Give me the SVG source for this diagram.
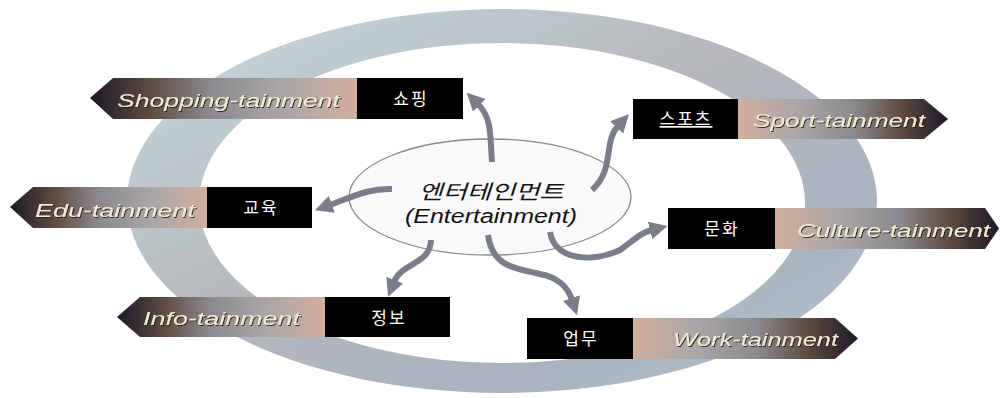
<svg xmlns="http://www.w3.org/2000/svg" width="1000" height="398" viewBox="0 0 1000 398">
<defs>
  <linearGradient id="ringGrad" x1="0" y1="0" x2="1" y2="1">
    <stop offset="0" stop-color="#c4dbe0"/>
    <stop offset="0.45" stop-color="#b6b8bc"/>
    <stop offset="0.75" stop-color="#a9b3c0"/>
    <stop offset="1" stop-color="#b4c8d2"/>
  </linearGradient>
  <linearGradient id="bannerL" x1="0" y1="0" x2="1" y2="0">
    <stop offset="0" stop-color="#1c1828"/>
    <stop offset="0.22" stop-color="#5e4a40"/>
    <stop offset="0.45" stop-color="#8c8a8e"/>
    <stop offset="0.72" stop-color="#aaa6a8"/>
    <stop offset="1" stop-color="#d2ae9c"/>
  </linearGradient>
  <linearGradient id="bannerR" x1="0" y1="0" x2="1" y2="0">
    <stop offset="0" stop-color="#d2ae9c"/>
    <stop offset="0.28" stop-color="#aaa6a8"/>
    <stop offset="0.55" stop-color="#8c8a8e"/>
    <stop offset="0.78" stop-color="#5e4a40"/>
    <stop offset="1" stop-color="#1c1828"/>
  </linearGradient>
  <filter id="shadow" x="-5%" y="-20%" width="110%" height="140%">
    <feDropShadow dx="1" dy="1" stdDeviation="0.3" flood-color="#1a1a1a" flood-opacity="0.9"/>
  </filter>
  <marker id="head" markerUnits="userSpaceOnUse" markerWidth="18" markerHeight="18" viewBox="0 0 18 18" refX="2" refY="9" orient="auto">
    <path d="M0,0 L18,9 L0,18 z" fill="#7a7e88"/>
  </marker>
  <style>
    .box { fill: #000000; }
    .kor { fill: #ffffff; font-family: "Noto Sans CJK KR", sans-serif; font-size: 17px; text-anchor: middle; letter-spacing: 2px; }
    .eng { fill: #f2ecd2; font-family: "Liberation Sans", Arial, sans-serif; font-style: italic; font-size: 18px; filter: url(#shadow); }
    .conn { fill: none; stroke: #7a7e88; stroke-width: 6; stroke-linecap: butt; marker-end: url(#head); }
    .center { fill: #111111; font-family: "Liberation Sans", "Noto Sans CJK KR", sans-serif; font-style: italic; font-size: 20px; text-anchor: middle; }
  </style>
</defs>

<path d="M127,201 A375,192 0 1,0 877,201 A375,192 0 1,0 127,201 Z M199,203 A303,160 0 1,1 805,203 A303,160 0 1,1 199,203 Z" fill="url(#ringGrad)" fill-rule="evenodd"/>

<g id="entertainment">
  <ellipse cx="490" cy="197" rx="141" ry="58" fill="#fbf9fb" stroke="#8a8a8a" stroke-width="1.3"/>
  <text class="center" x="491" y="199" textLength="145" lengthAdjust="spacingAndGlyphs">엔터테인먼트</text>
  <text class="center" x="491" y="223" textLength="172" lengthAdjust="spacingAndGlyphs">(Entertainment)</text>
</g>

<g id="connectors">
  <path class="conn" d="M492 162 C490 135 492 118 478 104"/>
  <path class="conn" d="M592 190 C615 170 603 142 618 126"/>
  <path class="conn" d="M392 189 C368 188 350 198 330 205"/>
  <path class="conn" d="M431 240 C430 265 402 262 394 282"/>
  <path class="conn" d="M488 235 C492 265 512 268 540 274 C560 278 568 288 572 300"/>
  <path class="conn" d="M550 232 C555 262 595 262 620 250 C634 240 640 233 652 230"/>
</g>

<g id="shopping">
  <polygon points="90,98 113,78 357,78 357,119 113,119" fill="url(#bannerL)"/>
  <rect class="box" x="357" y="78" width="106" height="41"/>
  <text class="eng" x="117" y="107" textLength="223" lengthAdjust="spacingAndGlyphs">Shopping-tainment</text>
  <text class="kor" x="411" y="105">쇼핑</text>
</g>

<g id="sport">
  <rect class="box" x="633" y="99" width="105" height="40"/>
  <polygon points="738,99 924,99 948,119 924,139 738,139" fill="url(#bannerR)"/>
  <text class="kor" x="686" y="125" text-decoration="underline">스포츠</text>
  <text class="eng" x="753" y="127" textLength="172" lengthAdjust="spacingAndGlyphs">Sport-tainment</text>
</g>

<g id="edu">
  <polygon points="10,207 33,187 207,187 207,228 33,228" fill="url(#bannerL)"/>
  <rect class="box" x="207" y="187" width="105" height="41"/>
  <text class="eng" x="35" y="217" textLength="160" lengthAdjust="spacingAndGlyphs">Edu-tainment</text>
  <text class="kor" x="261" y="214">교육</text>
</g>

<g id="culture">
  <rect class="box" x="668" y="208" width="107" height="41"/>
  <polygon points="775,208 985,208 999,228.5 985,249 775,249" fill="url(#bannerR)"/>
  <text class="kor" x="722" y="235">문화</text>
  <text class="eng" x="797" y="237" textLength="193" lengthAdjust="spacingAndGlyphs">Culture-tainment</text>
</g>

<g id="info">
  <polygon points="117,317 140,297 325,297 325,337 140,337" fill="url(#bannerL)"/>
  <rect class="box" x="325" y="297" width="125" height="40"/>
  <text class="eng" x="143" y="325" textLength="157" lengthAdjust="spacingAndGlyphs">Info-tainment</text>
  <text class="kor" x="389" y="324">정보</text>
</g>

<g id="work">
  <rect class="box" x="527" y="318" width="106" height="41"/>
  <polygon points="633,318 835,318 858,338.5 835,359 633,359" fill="url(#bannerR)"/>
  <text class="kor" x="581" y="345">업무</text>
  <text class="eng" x="673" y="346" textLength="165" lengthAdjust="spacingAndGlyphs">Work-tainment</text>
</g>
</svg>
